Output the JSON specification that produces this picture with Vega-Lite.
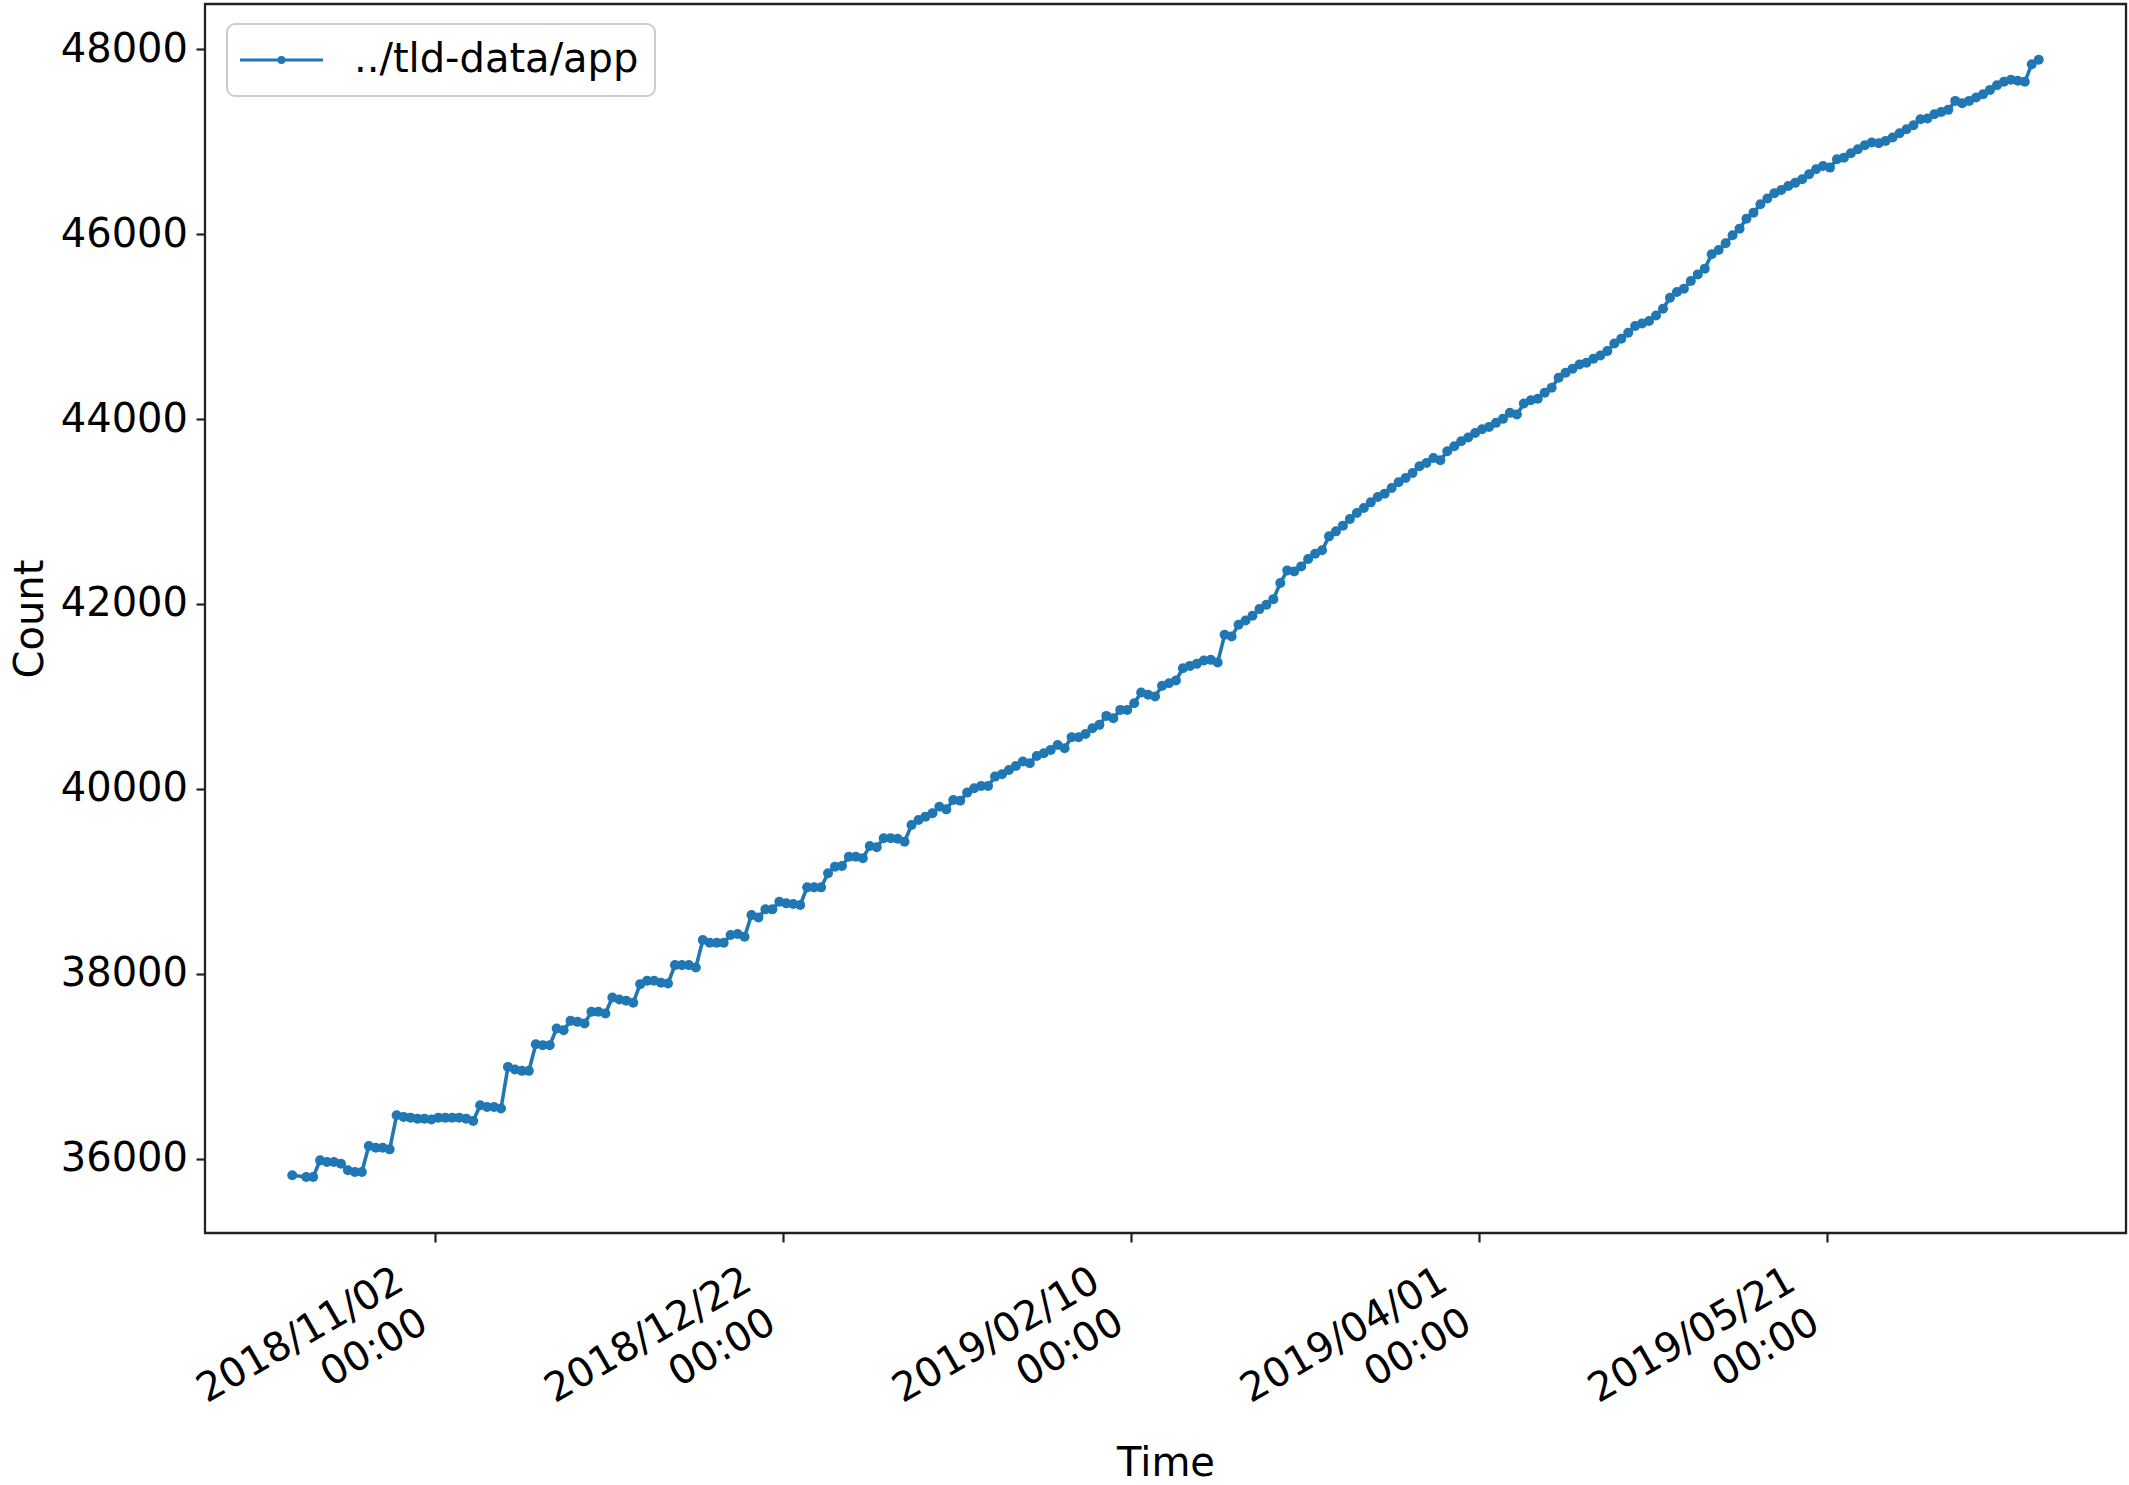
{
  "$schema": "https://vega.github.io/schema/vega-lite/v6.json",
  "width": 1921,
  "height": 1229,
  "autosize": "none",
  "padding": {"left": 205, "top": 4, "right": 3, "bottom": 252},
  "background": "white",
  "config": {
    "font": "DejaVu Sans",
    "view": {"stroke": "#222222", "strokeWidth": 2.3},
    "axis": {
      "domain": false,
      "grid": false,
      "tickColor": "#222222",
      "tickWidth": 2.2,
      "tickSize": 9,
      "labelColor": "#000000",
      "labelFontSize": 40,
      "labelFont": "DejaVu Sans",
      "titleFont": "DejaVu Sans",
      "titleFontSize": 40,
      "titleFontWeight": "normal",
      "titleColor": "#000000"
    }
  },
  "data": {
    "values": [
      {"t": "2018-10-12T12:00:00Z", "v": 35819},
      {"t": "2018-10-14T12:00:00Z", "v": 35801},
      {"t": "2018-10-15T12:00:00Z", "v": 35801},
      {"t": "2018-10-16T12:00:00Z", "v": 35981},
      {"t": "2018-10-17T12:00:00Z", "v": 35963},
      {"t": "2018-10-18T12:00:00Z", "v": 35963},
      {"t": "2018-10-19T12:00:00Z", "v": 35945},
      {"t": "2018-10-20T12:00:00Z", "v": 35873},
      {"t": "2018-10-21T12:00:00Z", "v": 35855},
      {"t": "2018-10-22T12:00:00Z", "v": 35855},
      {"t": "2018-10-23T12:00:00Z", "v": 36136},
      {"t": "2018-10-24T12:00:00Z", "v": 36118},
      {"t": "2018-10-25T12:00:00Z", "v": 36118},
      {"t": "2018-10-26T12:00:00Z", "v": 36100},
      {"t": "2018-10-27T12:00:00Z", "v": 36469},
      {"t": "2018-10-28T12:00:00Z", "v": 36451},
      {"t": "2018-10-29T12:00:00Z", "v": 36443},
      {"t": "2018-10-30T12:00:00Z", "v": 36432},
      {"t": "2018-10-31T12:00:00Z", "v": 36432},
      {"t": "2018-11-01T12:00:00Z", "v": 36422},
      {"t": "2018-11-02T12:00:00Z", "v": 36443},
      {"t": "2018-11-03T12:00:00Z", "v": 36443},
      {"t": "2018-11-04T12:00:00Z", "v": 36443},
      {"t": "2018-11-05T12:00:00Z", "v": 36443},
      {"t": "2018-11-06T12:00:00Z", "v": 36432},
      {"t": "2018-11-07T12:00:00Z", "v": 36407},
      {"t": "2018-11-08T12:00:00Z", "v": 36577},
      {"t": "2018-11-09T12:00:00Z", "v": 36559},
      {"t": "2018-11-10T12:00:00Z", "v": 36559},
      {"t": "2018-11-11T12:00:00Z", "v": 36541},
      {"t": "2018-11-12T12:00:00Z", "v": 36992},
      {"t": "2018-11-13T12:00:00Z", "v": 36963},
      {"t": "2018-11-14T12:00:00Z", "v": 36949},
      {"t": "2018-11-15T12:00:00Z", "v": 36949},
      {"t": "2018-11-16T12:00:00Z", "v": 37237},
      {"t": "2018-11-17T12:00:00Z", "v": 37227},
      {"t": "2018-11-18T12:00:00Z", "v": 37227},
      {"t": "2018-11-19T12:00:00Z", "v": 37407},
      {"t": "2018-11-20T12:00:00Z", "v": 37389},
      {"t": "2018-11-21T12:00:00Z", "v": 37490},
      {"t": "2018-11-22T12:00:00Z", "v": 37479},
      {"t": "2018-11-23T12:00:00Z", "v": 37461},
      {"t": "2018-11-24T12:00:00Z", "v": 37588},
      {"t": "2018-11-25T12:00:00Z", "v": 37588},
      {"t": "2018-11-26T12:00:00Z", "v": 37570},
      {"t": "2018-11-27T12:00:00Z", "v": 37743},
      {"t": "2018-11-28T12:00:00Z", "v": 37721},
      {"t": "2018-11-29T12:00:00Z", "v": 37707},
      {"t": "2018-11-30T12:00:00Z", "v": 37685},
      {"t": "2018-12-01T12:00:00Z", "v": 37887},
      {"t": "2018-12-02T12:00:00Z", "v": 37923},
      {"t": "2018-12-03T12:00:00Z", "v": 37923},
      {"t": "2018-12-04T12:00:00Z", "v": 37902},
      {"t": "2018-12-05T12:00:00Z", "v": 37894},
      {"t": "2018-12-06T12:00:00Z", "v": 38093},
      {"t": "2018-12-07T12:00:00Z", "v": 38093},
      {"t": "2018-12-08T12:00:00Z", "v": 38093},
      {"t": "2018-12-09T12:00:00Z", "v": 38068},
      {"t": "2018-12-10T12:00:00Z", "v": 38364},
      {"t": "2018-12-11T12:00:00Z", "v": 38335},
      {"t": "2018-12-12T12:00:00Z", "v": 38335},
      {"t": "2018-12-13T12:00:00Z", "v": 38335},
      {"t": "2018-12-14T12:00:00Z", "v": 38418},
      {"t": "2018-12-15T12:00:00Z", "v": 38429},
      {"t": "2018-12-16T12:00:00Z", "v": 38400},
      {"t": "2018-12-17T12:00:00Z", "v": 38634},
      {"t": "2018-12-18T12:00:00Z", "v": 38609},
      {"t": "2018-12-19T12:00:00Z", "v": 38696},
      {"t": "2018-12-20T12:00:00Z", "v": 38696},
      {"t": "2018-12-21T12:00:00Z", "v": 38779},
      {"t": "2018-12-22T12:00:00Z", "v": 38761},
      {"t": "2018-12-23T12:00:00Z", "v": 38754},
      {"t": "2018-12-24T12:00:00Z", "v": 38743},
      {"t": "2018-12-25T12:00:00Z", "v": 38934},
      {"t": "2018-12-26T12:00:00Z", "v": 38934},
      {"t": "2018-12-27T12:00:00Z", "v": 38934},
      {"t": "2018-12-28T12:00:00Z", "v": 39086},
      {"t": "2018-12-29T12:00:00Z", "v": 39158},
      {"t": "2018-12-30T12:00:00Z", "v": 39165},
      {"t": "2018-12-31T12:00:00Z", "v": 39266},
      {"t": "2019-01-01T12:00:00Z", "v": 39266},
      {"t": "2019-01-02T12:00:00Z", "v": 39248},
      {"t": "2019-01-03T12:00:00Z", "v": 39382},
      {"t": "2019-01-04T12:00:00Z", "v": 39367},
      {"t": "2019-01-05T12:00:00Z", "v": 39465},
      {"t": "2019-01-06T12:00:00Z", "v": 39465},
      {"t": "2019-01-07T12:00:00Z", "v": 39460},
      {"t": "2019-01-08T12:00:00Z", "v": 39428},
      {"t": "2019-01-09T12:00:00Z", "v": 39609},
      {"t": "2019-01-10T12:00:00Z", "v": 39663},
      {"t": "2019-01-11T12:00:00Z", "v": 39699},
      {"t": "2019-01-12T12:00:00Z", "v": 39735},
      {"t": "2019-01-13T12:00:00Z", "v": 39807},
      {"t": "2019-01-14T12:00:00Z", "v": 39778},
      {"t": "2019-01-15T12:00:00Z", "v": 39879},
      {"t": "2019-01-16T12:00:00Z", "v": 39872},
      {"t": "2019-01-17T12:00:00Z", "v": 39959},
      {"t": "2019-01-18T12:00:00Z", "v": 40006},
      {"t": "2019-01-19T12:00:00Z", "v": 40031},
      {"t": "2019-01-20T12:00:00Z", "v": 40031},
      {"t": "2019-01-21T12:00:00Z", "v": 40132},
      {"t": "2019-01-22T12:00:00Z", "v": 40157},
      {"t": "2019-01-23T12:00:00Z", "v": 40204},
      {"t": "2019-01-24T12:00:00Z", "v": 40248},
      {"t": "2019-01-25T12:00:00Z", "v": 40295},
      {"t": "2019-01-26T12:00:00Z", "v": 40277},
      {"t": "2019-01-27T12:00:00Z", "v": 40356},
      {"t": "2019-01-28T12:00:00Z", "v": 40385},
      {"t": "2019-01-29T12:00:00Z", "v": 40421},
      {"t": "2019-01-30T12:00:00Z", "v": 40475},
      {"t": "2019-01-31T12:00:00Z", "v": 40439},
      {"t": "2019-02-01T12:00:00Z", "v": 40558},
      {"t": "2019-02-02T12:00:00Z", "v": 40558},
      {"t": "2019-02-03T12:00:00Z", "v": 40594},
      {"t": "2019-02-04T12:00:00Z", "v": 40656},
      {"t": "2019-02-05T12:00:00Z", "v": 40692},
      {"t": "2019-02-06T12:00:00Z", "v": 40789},
      {"t": "2019-02-07T12:00:00Z", "v": 40764},
      {"t": "2019-02-08T12:00:00Z", "v": 40854},
      {"t": "2019-02-09T12:00:00Z", "v": 40854},
      {"t": "2019-02-10T12:00:00Z", "v": 40926},
      {"t": "2019-02-11T12:00:00Z", "v": 41042},
      {"t": "2019-02-12T12:00:00Z", "v": 41017},
      {"t": "2019-02-13T12:00:00Z", "v": 40999},
      {"t": "2019-02-14T12:00:00Z", "v": 41114},
      {"t": "2019-02-15T12:00:00Z", "v": 41143},
      {"t": "2019-02-16T12:00:00Z", "v": 41172},
      {"t": "2019-02-17T12:00:00Z", "v": 41305},
      {"t": "2019-02-18T12:00:00Z", "v": 41330},
      {"t": "2019-02-19T12:00:00Z", "v": 41352},
      {"t": "2019-02-20T12:00:00Z", "v": 41388},
      {"t": "2019-02-21T12:00:00Z", "v": 41395},
      {"t": "2019-02-22T12:00:00Z", "v": 41367},
      {"t": "2019-02-23T12:00:00Z", "v": 41666},
      {"t": "2019-02-24T12:00:00Z", "v": 41648},
      {"t": "2019-02-25T12:00:00Z", "v": 41774},
      {"t": "2019-02-26T12:00:00Z", "v": 41821},
      {"t": "2019-02-27T12:00:00Z", "v": 41872},
      {"t": "2019-02-28T12:00:00Z", "v": 41944},
      {"t": "2019-03-01T12:00:00Z", "v": 41991},
      {"t": "2019-03-02T12:00:00Z", "v": 42052},
      {"t": "2019-03-03T12:00:00Z", "v": 42226},
      {"t": "2019-03-04T12:00:00Z", "v": 42363},
      {"t": "2019-03-05T12:00:00Z", "v": 42352},
      {"t": "2019-03-06T12:00:00Z", "v": 42406},
      {"t": "2019-03-07T12:00:00Z", "v": 42486},
      {"t": "2019-03-08T12:00:00Z", "v": 42543},
      {"t": "2019-03-09T12:00:00Z", "v": 42580},
      {"t": "2019-03-10T12:00:00Z", "v": 42731},
      {"t": "2019-03-11T12:00:00Z", "v": 42785},
      {"t": "2019-03-12T12:00:00Z", "v": 42847},
      {"t": "2019-03-13T12:00:00Z", "v": 42919},
      {"t": "2019-03-14T12:00:00Z", "v": 42984},
      {"t": "2019-03-15T12:00:00Z", "v": 43038},
      {"t": "2019-03-16T12:00:00Z", "v": 43099},
      {"t": "2019-03-17T12:00:00Z", "v": 43157},
      {"t": "2019-03-18T12:00:00Z", "v": 43193},
      {"t": "2019-03-19T12:00:00Z", "v": 43255},
      {"t": "2019-03-20T12:00:00Z", "v": 43316},
      {"t": "2019-03-21T12:00:00Z", "v": 43363},
      {"t": "2019-03-22T12:00:00Z", "v": 43417},
      {"t": "2019-03-23T12:00:00Z", "v": 43489},
      {"t": "2019-03-24T12:00:00Z", "v": 43525},
      {"t": "2019-03-25T12:00:00Z", "v": 43579},
      {"t": "2019-03-26T12:00:00Z", "v": 43554},
      {"t": "2019-03-27T12:00:00Z", "v": 43652},
      {"t": "2019-03-28T12:00:00Z", "v": 43706},
      {"t": "2019-03-29T12:00:00Z", "v": 43760},
      {"t": "2019-03-30T12:00:00Z", "v": 43800},
      {"t": "2019-03-31T12:00:00Z", "v": 43850},
      {"t": "2019-04-01T12:00:00Z", "v": 43890},
      {"t": "2019-04-02T12:00:00Z", "v": 43915},
      {"t": "2019-04-03T12:00:00Z", "v": 43959},
      {"t": "2019-04-04T12:00:00Z", "v": 44002},
      {"t": "2019-04-05T12:00:00Z", "v": 44067},
      {"t": "2019-04-06T12:00:00Z", "v": 44049},
      {"t": "2019-04-07T12:00:00Z", "v": 44168},
      {"t": "2019-04-08T12:00:00Z", "v": 44204},
      {"t": "2019-04-09T12:00:00Z", "v": 44219},
      {"t": "2019-04-10T12:00:00Z", "v": 44284},
      {"t": "2019-04-11T12:00:00Z", "v": 44338},
      {"t": "2019-04-12T12:00:00Z", "v": 44446},
      {"t": "2019-04-13T12:00:00Z", "v": 44500},
      {"t": "2019-04-14T12:00:00Z", "v": 44544},
      {"t": "2019-04-15T12:00:00Z", "v": 44590},
      {"t": "2019-04-16T12:00:00Z", "v": 44609},
      {"t": "2019-04-17T12:00:00Z", "v": 44652},
      {"t": "2019-04-18T12:00:00Z", "v": 44688},
      {"t": "2019-04-19T12:00:00Z", "v": 44735},
      {"t": "2019-04-20T12:00:00Z", "v": 44818},
      {"t": "2019-04-21T12:00:00Z", "v": 44868},
      {"t": "2019-04-22T12:00:00Z", "v": 44933},
      {"t": "2019-04-23T12:00:00Z", "v": 45006},
      {"t": "2019-04-24T12:00:00Z", "v": 45035},
      {"t": "2019-04-25T12:00:00Z", "v": 45060},
      {"t": "2019-04-26T12:00:00Z", "v": 45121},
      {"t": "2019-04-27T12:00:00Z", "v": 45193},
      {"t": "2019-04-28T12:00:00Z", "v": 45312},
      {"t": "2019-04-29T12:00:00Z", "v": 45374},
      {"t": "2019-04-30T12:00:00Z", "v": 45410},
      {"t": "2019-05-01T12:00:00Z", "v": 45493},
      {"t": "2019-05-02T12:00:00Z", "v": 45565},
      {"t": "2019-05-03T12:00:00Z", "v": 45627},
      {"t": "2019-05-04T12:00:00Z", "v": 45782},
      {"t": "2019-05-05T12:00:00Z", "v": 45829},
      {"t": "2019-05-06T12:00:00Z", "v": 45901},
      {"t": "2019-05-07T12:00:00Z", "v": 45988},
      {"t": "2019-05-08T12:00:00Z", "v": 46060},
      {"t": "2019-05-09T12:00:00Z", "v": 46168},
      {"t": "2019-05-10T12:00:00Z", "v": 46233},
      {"t": "2019-05-11T12:00:00Z", "v": 46323},
      {"t": "2019-05-12T12:00:00Z", "v": 46385},
      {"t": "2019-05-13T12:00:00Z", "v": 46442},
      {"t": "2019-05-14T12:00:00Z", "v": 46478},
      {"t": "2019-05-15T12:00:00Z", "v": 46522},
      {"t": "2019-05-16T12:00:00Z", "v": 46555},
      {"t": "2019-05-17T12:00:00Z", "v": 46594},
      {"t": "2019-05-18T12:00:00Z", "v": 46648},
      {"t": "2019-05-19T12:00:00Z", "v": 46702},
      {"t": "2019-05-20T12:00:00Z", "v": 46738},
      {"t": "2019-05-21T12:00:00Z", "v": 46720},
      {"t": "2019-05-22T12:00:00Z", "v": 46810},
      {"t": "2019-05-23T12:00:00Z", "v": 46828},
      {"t": "2019-05-24T12:00:00Z", "v": 46875},
      {"t": "2019-05-25T12:00:00Z", "v": 46919},
      {"t": "2019-05-26T12:00:00Z", "v": 46962},
      {"t": "2019-05-27T12:00:00Z", "v": 46991},
      {"t": "2019-05-28T12:00:00Z", "v": 46984},
      {"t": "2019-05-29T12:00:00Z", "v": 47009},
      {"t": "2019-05-30T12:00:00Z", "v": 47045},
      {"t": "2019-05-31T12:00:00Z", "v": 47092},
      {"t": "2019-06-01T12:00:00Z", "v": 47135},
      {"t": "2019-06-02T12:00:00Z", "v": 47179},
      {"t": "2019-06-03T12:00:00Z", "v": 47244},
      {"t": "2019-06-04T12:00:00Z", "v": 47251},
      {"t": "2019-06-05T12:00:00Z", "v": 47298},
      {"t": "2019-06-06T12:00:00Z", "v": 47323},
      {"t": "2019-06-07T12:00:00Z", "v": 47345},
      {"t": "2019-06-08T12:00:00Z", "v": 47442},
      {"t": "2019-06-09T12:00:00Z", "v": 47417},
      {"t": "2019-06-10T12:00:00Z", "v": 47442},
      {"t": "2019-06-11T12:00:00Z", "v": 47478},
      {"t": "2019-06-12T12:00:00Z", "v": 47514},
      {"t": "2019-06-13T12:00:00Z", "v": 47561},
      {"t": "2019-06-14T12:00:00Z", "v": 47612},
      {"t": "2019-06-15T12:00:00Z", "v": 47648},
      {"t": "2019-06-16T12:00:00Z", "v": 47670},
      {"t": "2019-06-17T12:00:00Z", "v": 47659},
      {"t": "2019-06-18T12:00:00Z", "v": 47648},
      {"t": "2019-06-19T12:00:00Z", "v": 47839},
      {"t": "2019-06-20T12:00:00Z", "v": 47886}
    ]
  },
  "mark": {
    "type": "line",
    "strokeWidth": 3.6,
    "point": {"filled": true, "size": 100, "opacity": 1}
  },
  "encoding": {
    "x": {
      "field": "t",
      "type": "temporal",
      "scale": {
        "type": "utc",
        "domain": [
          {"year": 2018, "month": 9, "date": 29, "hours": 23, "utc": true},
          {"year": 2019, "month": 7, "date": 3, "hours": 1, "utc": true}
        ]
      },
      "axis": {
        "title": "Time",
        "titleX": 960.5,
        "titleY": 242,
        "titleAlign": "center",
        "titleBaseline": "alphabetic",
        "values": [
          {"year": 2018, "month": 11, "date": 2, "utc": true},
          {"year": 2018, "month": 12, "date": 22, "utc": true},
          {"year": 2019, "month": 2, "date": 10, "utc": true},
          {"year": 2019, "month": 4, "date": 1, "utc": true},
          {"year": 2019, "month": 5, "date": 21, "utc": true}
        ],
        "labelExpr": "[utcFormat(datum.value, '%Y/%m/%d'), '00:00']",
        "labelAngle": -30,
        "labelAlign": "right",
        "labelBaseline": "top",
        "labelOffset": -45,
        "labelPadding": 18,
        "labelLineHeight": 48,
        "labelLimit": 0,
        "labelFlush": false,
        "labelOverlap": false,
        "labelBound": false
      }
    },
    "y": {
      "field": "v",
      "type": "quantitative",
      "scale": {"domain": [35195, 48490], "nice": false, "zero": false},
      "axis": {
        "title": "Count",
        "titleX": -163,
        "titleY": 614.5,
        "titleAngle": -90,
        "titleAlign": "center",
        "titleBaseline": "alphabetic",
        "values": [36000, 38000, 40000, 42000, 44000, 46000, 48000],
        "format": "d",
        "labelPadding": 8.5
      }
    },
    "color": {
      "datum": "../tld-data/app",
      "type": "nominal",
      "scale": {"range": ["#1f77b4"]},
      "legend": {
        "title": null,
        "orient": "none",
        "legendX": 22,
        "legendY": 20,
        "symbolType": "M-2.3,0H6M2.1,0A0.25,0.25,0,1,1,1.6,0A0.25,0.25,0,1,1,2.1,0Z",
        "symbolSize": 400,
        "symbolStrokeWidth": 3,
        "symbolFillColor": "#1f77b4",
        "symbolStrokeColor": "#1f77b4",
        "labelFontSize": 40,
        "labelColor": "#000000",
        "labelOffset": 71,
        "labelLimit": 1000,
        "padding": 16,
        "fillColor": "#ffffff",
        "strokeColor": "#cccccc",
        "cornerRadius": 8,
        "encode": {
          "symbols": {
            "update": {
              "fill": {"value": "#1f77b4"},
              "stroke": {"value": "#1f77b4"},
              "opacity": {"value": 1}
            }
          },
          "legend": {
            "update": {"strokeWidth": {"value": 2}}
          }
        }
      }
    }
  }
}
